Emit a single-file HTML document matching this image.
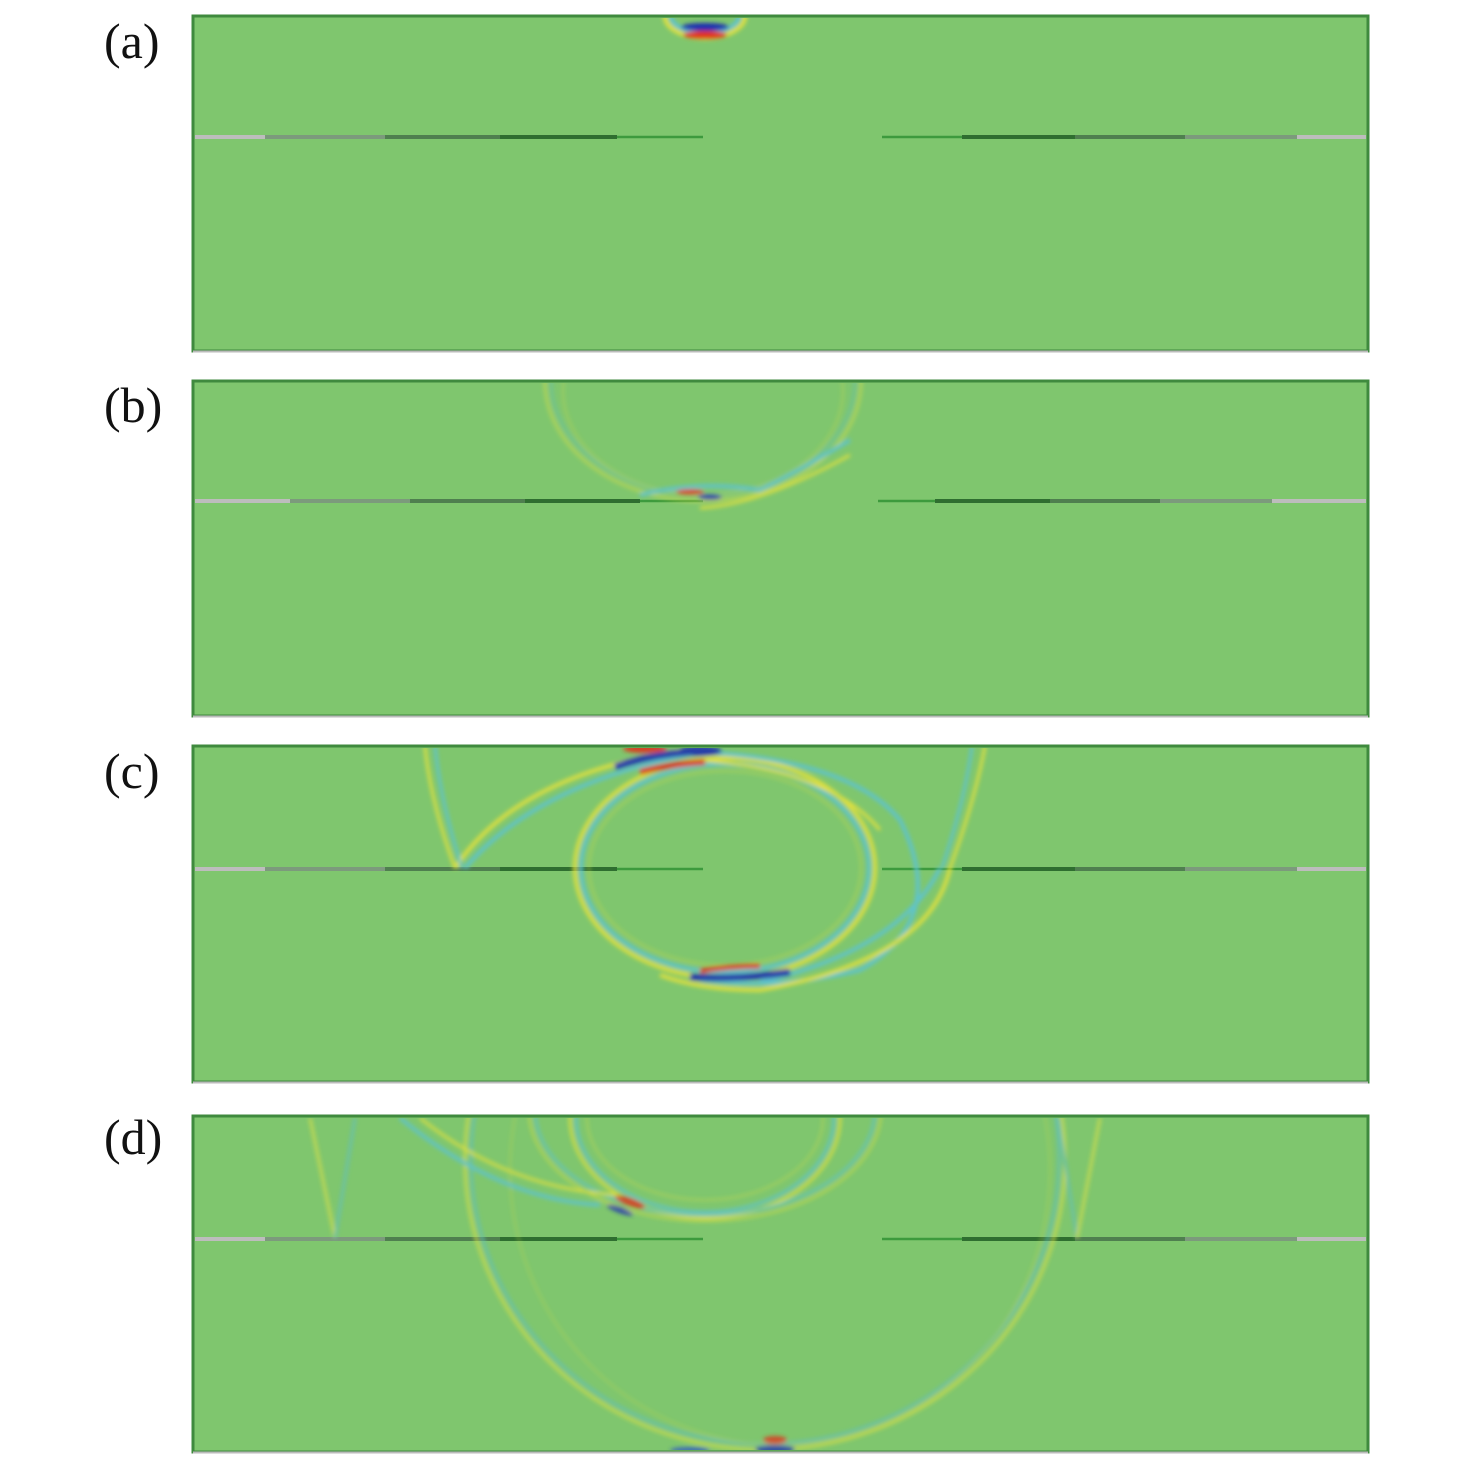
<!DOCTYPE html>
<html><head><meta charset="utf-8"><style>
html,body{margin:0;padding:0;background:#fff;}
.lab{font-family:"Liberation Serif",serif;font-size:50px;fill:#111;}
</style></head><body>
<svg width="1476" height="1467" viewBox="0 0 1476 1467" xmlns="http://www.w3.org/2000/svg">
<defs>
<filter id="bl" x="-20%" y="-20%" width="140%" height="140%"><feGaussianBlur stdDeviation="2"/></filter>
<clipPath id="ca"><rect x="195" y="18" width="1171" height="331"/></clipPath>
<clipPath id="cb"><rect x="195" y="383" width="1171" height="331"/></clipPath>
<clipPath id="cc"><rect x="195" y="748" width="1171" height="332"/></clipPath>
<clipPath id="cd"><rect x="195" y="1118" width="1171" height="332"/></clipPath>
</defs>

<text class="lab" x="104" y="58">(a)</text>
<text class="lab" x="104" y="422">(b)</text>
<text class="lab" x="104" y="788">(c)</text>
<text class="lab" x="104" y="1154">(d)</text>

<g>
<rect x="193" y="16" width="1175" height="335" fill="#7fc66e" stroke="#3f8a3e" stroke-width="3"/>
<rect x="193" y="381" width="1175" height="335" fill="#7fc66e" stroke="#3f8a3e" stroke-width="3"/>
<rect x="193" y="746" width="1175" height="336" fill="#7fc66e" stroke="#3f8a3e" stroke-width="3"/>
<rect x="193" y="1116" width="1175" height="336" fill="#7fc66e" stroke="#3f8a3e" stroke-width="3"/>
<line x1="193" y1="351.5" x2="1368" y2="351.5" stroke="#bbb" stroke-width="2"/>
<line x1="193" y1="716.5" x2="1368" y2="716.5" stroke="#bbb" stroke-width="2"/>
<line x1="193" y1="1082.5" x2="1368" y2="1082.5" stroke="#bbb" stroke-width="2"/>
<line x1="193" y1="1452.5" x2="1368" y2="1452.5" stroke="#bbb" stroke-width="2"/>
</g>

<g stroke-width="4">
<g transform="translate(0,137)">
<line x1="195" y1="0" x2="265" y2="0" stroke="#bdbdbd"/><line x1="265" y1="0" x2="385" y2="0" stroke="#7c9a7c"/>
<line x1="385" y1="0" x2="500" y2="0" stroke="#4f7f4f"/><line x1="500" y1="0" x2="617" y2="0" stroke="#2f6e30"/>
<line x1="617" y1="0" x2="703" y2="0" stroke="#3d9a3d" stroke-width="2.5"/>
<line x1="882" y1="0" x2="962" y2="0" stroke="#3d9a3d" stroke-width="2.5"/><line x1="962" y1="0" x2="1075" y2="0" stroke="#2f6e30"/>
<line x1="1075" y1="0" x2="1185" y2="0" stroke="#4f7f4f"/><line x1="1185" y1="0" x2="1297" y2="0" stroke="#7c9a7c"/>
<line x1="1297" y1="0" x2="1366" y2="0" stroke="#bdbdbd"/>
</g>
<g transform="translate(0,501)">
<line x1="195" y1="0" x2="290" y2="0" stroke="#bdbdbd"/><line x1="290" y1="0" x2="410" y2="0" stroke="#7c9a7c"/>
<line x1="410" y1="0" x2="525" y2="0" stroke="#4f7f4f"/><line x1="525" y1="0" x2="640" y2="0" stroke="#2f6e30"/>
<line x1="640" y1="0" x2="703" y2="0" stroke="#3d9a3d" stroke-width="2.5"/>
<line x1="878" y1="0" x2="935" y2="0" stroke="#3d9a3d" stroke-width="2.5"/><line x1="935" y1="0" x2="1050" y2="0" stroke="#2f6e30"/>
<line x1="1050" y1="0" x2="1160" y2="0" stroke="#4f7f4f"/><line x1="1160" y1="0" x2="1272" y2="0" stroke="#7c9a7c"/>
<line x1="1272" y1="0" x2="1366" y2="0" stroke="#bdbdbd"/>
</g>
<g transform="translate(0,869)">
<line x1="195" y1="0" x2="265" y2="0" stroke="#bdbdbd"/><line x1="265" y1="0" x2="385" y2="0" stroke="#7c9a7c"/>
<line x1="385" y1="0" x2="500" y2="0" stroke="#4f7f4f"/><line x1="500" y1="0" x2="617" y2="0" stroke="#2f6e30"/>
<line x1="617" y1="0" x2="703" y2="0" stroke="#3d9a3d" stroke-width="2.5"/>
<line x1="882" y1="0" x2="962" y2="0" stroke="#3d9a3d" stroke-width="2.5"/><line x1="962" y1="0" x2="1075" y2="0" stroke="#2f6e30"/>
<line x1="1075" y1="0" x2="1185" y2="0" stroke="#4f7f4f"/><line x1="1185" y1="0" x2="1297" y2="0" stroke="#7c9a7c"/>
<line x1="1297" y1="0" x2="1366" y2="0" stroke="#bdbdbd"/>
</g>
<g transform="translate(0,1239)">
<line x1="195" y1="0" x2="265" y2="0" stroke="#bdbdbd"/><line x1="265" y1="0" x2="385" y2="0" stroke="#7c9a7c"/>
<line x1="385" y1="0" x2="500" y2="0" stroke="#4f7f4f"/><line x1="500" y1="0" x2="617" y2="0" stroke="#2f6e30"/>
<line x1="617" y1="0" x2="703" y2="0" stroke="#3d9a3d" stroke-width="2.5"/>
<line x1="882" y1="0" x2="962" y2="0" stroke="#3d9a3d" stroke-width="2.5"/><line x1="962" y1="0" x2="1075" y2="0" stroke="#2f6e30"/>
<line x1="1075" y1="0" x2="1185" y2="0" stroke="#4f7f4f"/><line x1="1185" y1="0" x2="1297" y2="0" stroke="#7c9a7c"/>
<line x1="1297" y1="0" x2="1366" y2="0" stroke="#bdbdbd"/>
</g>
</g>

<g clip-path="url(#ca)" filter="url(#bl)">
<ellipse cx="705" cy="16" rx="40" ry="22" fill="none" stroke="#e8e23a" stroke-width="4"/>
<ellipse cx="705" cy="16" rx="34" ry="17" fill="none" stroke="#5cc3d6" stroke-width="4"/>
<ellipse cx="705" cy="27" rx="24" ry="4" fill="#1a2fb0"/>
<ellipse cx="705" cy="35" rx="22" ry="4" fill="#e0321c"/>
</g>

<g clip-path="url(#cb)" filter="url(#bl)" fill="none" stroke-width="3" opacity="0.85">
<ellipse cx="703" cy="381" rx="158" ry="120" stroke="#d6de4a" opacity="0.7"/>
<ellipse cx="703" cy="381" rx="152" ry="114" stroke="#64bfb8" opacity="0.6"/>
<ellipse cx="703" cy="391" rx="140" ry="104" stroke="#c9d84c" opacity="0.4"/>
<path d="M640 495 Q700 480 760 490 Q800 470 850 440" stroke="#5cc3d6" stroke-width="4"/>
<path d="M700 508 Q760 505 850 455" stroke="#e8e23a" stroke-width="3"/>
<ellipse cx="690" cy="492" rx="14" ry="3" fill="#e0321c" stroke="none"/>
<ellipse cx="710" cy="497" rx="12" ry="3" fill="#1a2fb0" stroke="none"/>
</g>

<g clip-path="url(#cc)" filter="url(#bl)" fill="none" opacity="0.9">
<ellipse cx="725" cy="868" rx="150" ry="110" stroke="#e8e23a" stroke-width="4"/>
<ellipse cx="725" cy="868" rx="144" ry="104" stroke="#5cc3d6" stroke-width="4"/>
<ellipse cx="725" cy="868" rx="136" ry="97" stroke="#c9d84c" stroke-width="2" opacity="0.6"/>
<path d="M455 868 Q520 770 700 748" stroke="#e8e23a" stroke-width="4"/>
<path d="M465 868 Q540 780 705 752" stroke="#5cc3d6" stroke-width="4"/>
<path d="M455 868 Q430 800 425 746" stroke="#e8e23a" stroke-width="3"/>
<path d="M462 868 Q440 800 435 746" stroke="#5cc3d6" stroke-width="3"/>
<path d="M950 868 Q975 800 985 746" stroke="#e8e23a" stroke-width="3"/>
<path d="M942 868 Q965 800 972 746" stroke="#5cc3d6" stroke-width="3"/>
<path d="M700 752 Q850 760 900 820 Q950 920 860 970 Q780 990 700 980" stroke="#5cc3d6" stroke-width="4"/>
<path d="M700 760 Q830 770 880 830" stroke="#e8e23a" stroke-width="3"/>
<path d="M950 868 Q930 960 760 990 Q700 990 660 975" stroke="#e8e23a" stroke-width="4"/>
<path d="M940 868 Q900 950 760 982" stroke="#5cc3d6" stroke-width="4"/>
<ellipse cx="645" cy="749" rx="22" ry="4" fill="#e0321c" stroke="none"/>
<ellipse cx="700" cy="751" rx="22" ry="5" fill="#1a2fb0" stroke="none"/>
<path d="M615 767 Q650 755 690 752" stroke="#1a2fb0" stroke-width="7"/>
<path d="M640 772 Q670 764 705 762" stroke="#e0321c" stroke-width="6"/>
<path d="M700 971 Q730 966 760 966" stroke="#e0321c" stroke-width="5"/>
<path d="M690 977 Q740 980 790 972" stroke="#1a2fb0" stroke-width="7"/>
</g>

<g clip-path="url(#cd)" filter="url(#bl)" fill="none" opacity="0.8">
<ellipse cx="765" cy="1160" rx="300" ry="290" stroke="#d6de4a" stroke-width="3"/>
<ellipse cx="765" cy="1160" rx="294" ry="284" stroke="#64bfb8" stroke-width="3"/>
<ellipse cx="780" cy="1170" rx="270" ry="275" stroke="#c9d84c" stroke-width="2" opacity="0.5"/>
<ellipse cx="705" cy="1118" rx="135" ry="100" stroke="#e8e23a" stroke-width="3"/>
<ellipse cx="705" cy="1118" rx="129" ry="94" stroke="#5cc3d6" stroke-width="3"/>
<ellipse cx="705" cy="1118" rx="118" ry="82" stroke="#c9d84c" stroke-width="2" opacity="0.7"/>
<ellipse cx="705" cy="1110" rx="170" ry="105" stroke="#5cc3d6" stroke-width="3" opacity="0.8"/>
<ellipse cx="705" cy="1110" rx="176" ry="111" stroke="#e8e23a" stroke-width="2" opacity="0.8"/>
<path d="M335 1238 L310 1118" stroke="#d6de4a" stroke-width="3"/>
<path d="M335 1238 L355 1118" stroke="#64bfb8" stroke-width="3"/>
<path d="M1077 1238 L1058 1118" stroke="#64bfb8" stroke-width="3"/>
<path d="M1077 1238 L1100 1118" stroke="#d6de4a" stroke-width="3"/>
<path d="M400 1118 Q500 1200 600 1205" stroke="#5cc3d6" stroke-width="4"/>
<path d="M420 1118 Q510 1190 620 1195" stroke="#e8e23a" stroke-width="3"/>
<ellipse cx="630" cy="1202" rx="16" ry="4" fill="#e0321c" stroke="none" transform="rotate(20 630 1202)"/>
<ellipse cx="620" cy="1210" rx="14" ry="3" fill="#1a2fb0" stroke="none" transform="rotate(20 620 1210)"/>
<ellipse cx="775" cy="1440" rx="12" ry="4" fill="#e0321c" stroke="none"/>
<ellipse cx="775" cy="1449" rx="20" ry="4" fill="#1a2fb0" stroke="none"/>
<ellipse cx="690" cy="1450" rx="20" ry="3" fill="#2f55c8" stroke="none"/>
</g>
</svg>
</body></html>
